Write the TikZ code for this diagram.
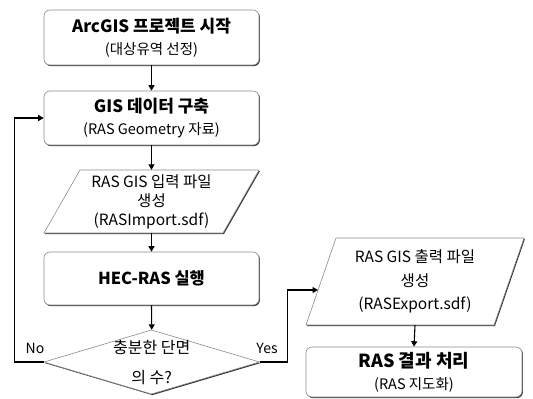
\documentclass[tikz,border=0pt]{standalone}
\usepackage{fontspec}
\setmainfont{Noto Sans CJK KR}
\usetikzlibrary{arrows.meta,calc,shadows}
\begin{document}
\begin{tikzpicture}[x=1pt,y=-1pt,
  conn/.style={line width=1.1pt,-{Triangle[length=5.5pt,width=6pt]}},
  box/.style={draw=black!45,line width=0.6pt,rounded corners=6pt,fill=white,
    minimum width=215pt,align=center,inner sep=0pt,
    drop shadow={shadow xshift=0.9pt,shadow yshift=-1.1pt,fill=black!80,opacity=1}},
  shp/.style={draw=black!45,line width=0.6pt,fill=white},
  shd/.style={fill=black!80},
  tx/.style={align=center,inner sep=0pt},
  lbl/.style={inner sep=0pt,font=\fontsize{14}{16}\selectfont}
]
\useasboundingbox (0,0) rectangle (533,399);

% boxes
\node[box,minimum height=55pt,font=\fontsize{14.5}{22}\selectfont] (b1) at (151.5,37.5)
  {{\fontsize{17}{22}\selectfont\bfseries ArcGIS 프로젝트 시작}\\(대상유역 선정)};
\node[box,minimum height=54pt,font=\fontsize{14.5}{22}\selectfont] (b2) at (151.5,118)
  {{\fontsize{17}{22}\selectfont\bfseries GIS 데이터 구축}\\(RAS Geometry 자료)};

% parallelogram 1
\fill[shd,xshift=0.9pt,yshift=-1.1pt] (44,233) -- (80,170) -- (259,170) -- (223,233) -- cycle;
\draw[shp] (44,233) -- (80,170) -- (259,170) -- (223,233) -- cycle;
\node[tx,minimum height=63pt,font=\fontsize{15.5}{19}\selectfont] (p1) at (151.5,201.5)
  {RAS GIS 입력 파일\\생성\\(RASImport.sdf)};

\node[box,minimum height=53pt] (b3) at (151.5,278.5)
  {\fontsize{16.5}{20}\selectfont\bfseries HEC-RAS 실행};

% decision
\fill[shd,xshift=0.9pt,yshift=-1.1pt] (44,362) -- (151.5,330) -- (259.5,362) -- (151.5,394) -- cycle;
\draw[shp] (44,362) -- (151.5,330) -- (259.5,362) -- (151.5,394) -- cycle;
\node[tx,minimum height=64pt,minimum width=215.5pt,font=\fontsize{16}{30}\selectfont] (d) at (151.75,362)
  {충분한 단면\\의 수?};

% parallelogram 2
\fill[shd,xshift=0.9pt,yshift=-1.1pt] (306,325) -- (336,238) -- (524,238) -- (494,325) -- cycle;
\draw[shp] (306,325) -- (336,238) -- (524,238) -- (494,325) -- cycle;
\node[tx,minimum height=87pt,font=\fontsize{15.5}{23.5}\selectfont] (p2) at (415,281.5)
  {RAS GIS 출력 파일\\생성\\(RASExport.sdf)};
\coordinate (p2in) at (318,290);

\node[box,minimum width=216pt,minimum height=50pt,font=\fontsize{14.5}{22}\selectfont] (b4) at (414,372)
  {{\fontsize{18}{22}\selectfont\bfseries RAS 결과 처리}\\(RAS 지도화)};

% labels
\node[lbl] (no) at (35,348) {No};
\node[lbl] (yes) at (267,348) {Yes};

% connectors
\draw[conn] (b1.south) -- (b2.north);
\draw[conn] (b2.south) -- (p1.north);
\draw[conn] (p1.south) -- (b3.north);
\draw[conn] (b3.south) -- (d.north);
\draw[conn] (d.west) -- ++(-29.5,0) |- (b2.west);
\draw[conn] (d.east) -- ++(27.5,0) |- (p2in);
\draw[conn] (p2.south) -- (b4.north);
\end{tikzpicture}
\end{document}
